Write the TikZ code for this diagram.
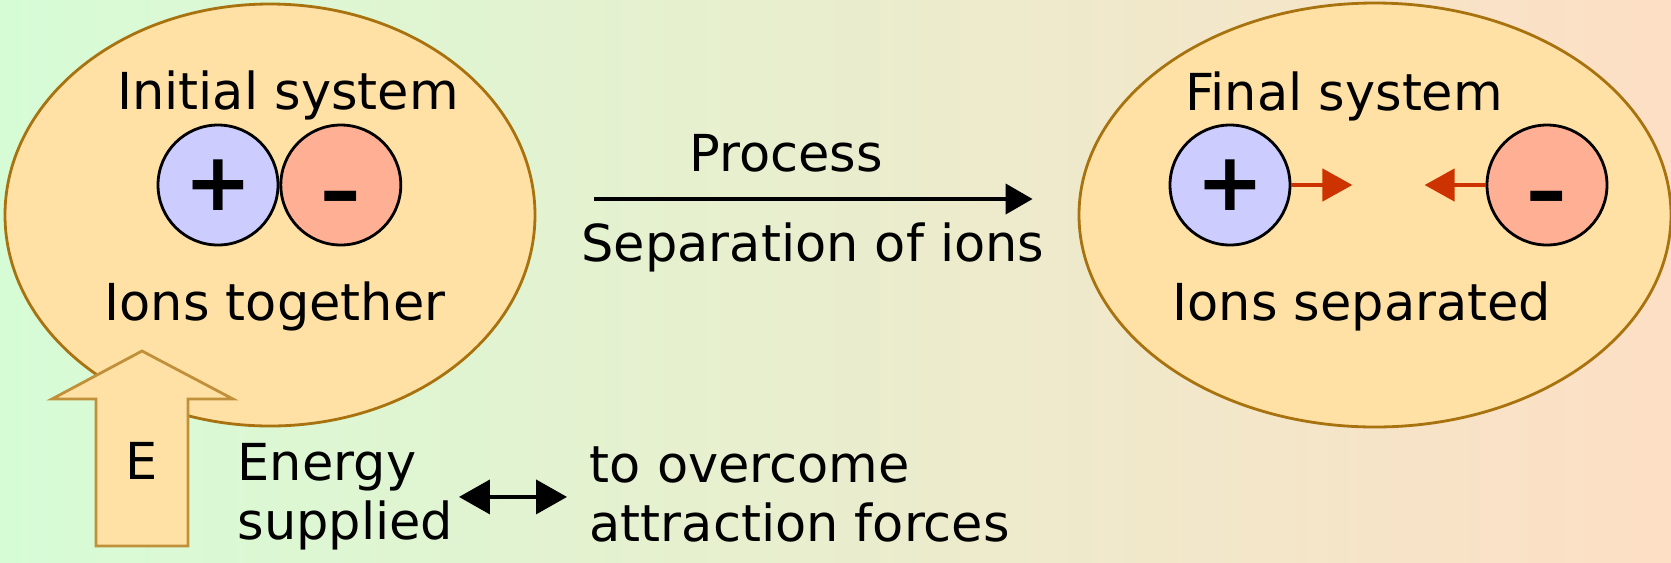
\documentclass[tikz,border=0pt]{standalone}
\usepackage{fontspec}
\setmainfont{DejaVu Sans}
\usepackage{tikz}
\usetikzlibrary{shapes.geometric, arrows.meta, positioning}
\definecolor{bgleft}{HTML}{D6FCD6}
\definecolor{bgright}{HTML}{FDDFC5}
\definecolor{sysfill}{HTML}{FFE1A5}
\definecolor{sysedge}{HTML}{A8720F}
\definecolor{eedge}{HTML}{C0903A}
\definecolor{plusfill}{HTML}{CCCCFF}
\definecolor{minusfill}{HTML}{FFB094}
\definecolor{pullred}{HTML}{CC3300}

\begin{document}
\begin{tikzpicture}[
system/.style={ellipse, draw=sysedge, fill=sysfill, line width=0.8pt, inner sep=0pt},
ion/.style={circle, draw=black, line width=0.8pt, minimum size=1.2cm, inner sep=0pt, font=\bfseries\fontsize{23}{23}\selectfont},
cation/.style={ion, fill=plusfill},
anion/.style={ion, fill=minusfill, text height=19pt, text depth=0pt},
txt/.style={font=\fontsize{14.5}{16.7}\selectfont, inner sep=0pt},
arrow/.style={-{Triangle[length=0.27cm, width=0.30cm]}, line width=1.1pt},
pull/.style={-{Triangle[length=0.30cm, width=0.32cm]}, line width=1.3pt, draw=pullred, fill=pullred},
twoway/.style={{Triangle[length=0.31cm, width=0.34cm]}-{Triangle[length=0.31cm, width=0.34cm]}, line width=1.1pt}
]
% Background
\shade[left color=bgleft, right color=bgright] (0,0) rectangle (16.71,-5.62);
\useasboundingbox (0,0) rectangle (16.71,-5.62);
% The two systems
\node[system, minimum width=5.30cm, minimum height=4.22cm] (initial) at (2.70,-2.15) {};
\node[system, minimum width=5.92cm, minimum height=4.24cm] (final) at (13.75,-2.15) {};
% Ions together
\node[cation] (plusA) at (2.18,-1.85) {+};
\node[anion, right=0pt of plusA] (minusA) {–};
% Ions separated
\node[cation] (plusB) at (12.30,-1.85) {+};
\node[anion] (minusB) at (15.47,-1.85) {–};
\coordinate[right=0.61cm of plusB.east] (pullA);
\coordinate[left=0.61cm of minusB.west] (pullB);
\draw[pull] (plusB.east) -- (pullA);
\draw[pull] (minusB.west) -- (pullB);
% Labels of the systems
\node[txt, anchor=base] (initial-title) at (2.88,-1.09) {Initial system};
\node[txt, anchor=base] (initial-state) at (2.75,-3.20) {Ions together};
\node[txt, anchor=base] (final-title) at (13.44,-1.10) {Final system};
\node[txt, anchor=base] (final-state) at (13.62,-3.20) {Ions separated};
% Process arrow
\draw[arrow, shorten <=0.58cm, shorten >=0.45cm] ([yshift=0.16cm]initial.east) -- ([yshift=0.16cm]final.west);
\node[txt, anchor=base] (process) at (7.86,-1.71) {Process};
\node[txt, anchor=base] (separation) at (8.13,-2.61) {Separation of ions};
% Energy arrow
\draw[fill=sysfill, draw=eedge, line width=0.8pt] (0.96,-5.46) -- (0.96,-3.99) -- (0.52,-3.99) -- (1.42,-3.51) -- (2.33,-3.99) -- (1.88,-3.99) -- (1.88,-5.46) -- cycle;
\node[txt] (E) at (1.42,-4.61) {E};
% Energy and attraction forces
\node[txt, align=left, anchor=north west] (energy) at (2.37,-4.43) {Energy\\supplied};
\node[txt, align=left, anchor=north west] (overcome) at (5.89,-4.46) {to overcome\\attraction forces};
\draw[twoway, shorten <=0.05cm, shorten >=0.22cm] (energy.east) -- (energy.east -| overcome.west);
\end{tikzpicture}
\end{document}
